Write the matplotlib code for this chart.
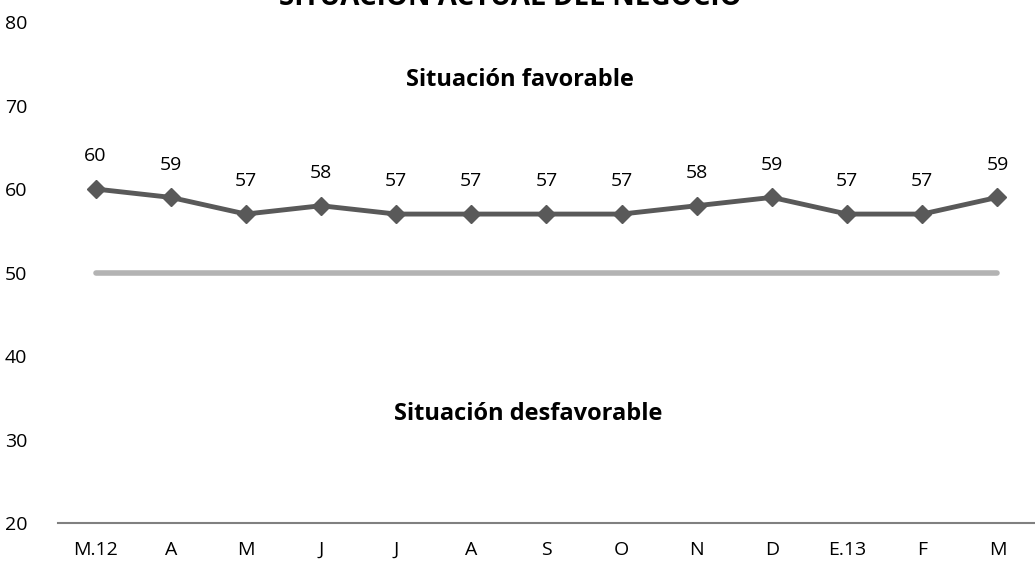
import matplotlib.pyplot as plt
import numpy as np

# Datos
meses = ['M.12', 'A', 'M', 'J', 'J', 'A', 'S', 'O', 'N', 'D', 'E.13', 'F', 'M']
valores = [60, 59, 57, 58, 57, 57, 57, 57, 58, 59, 57, 57, 59]
referencia = [50] * len(meses)
yticks = [20, 30, 40, 50, 60, 70, 80]

plt.rcParams['font.family'] = ['Open Sans', 'DejaVu Sans']

fig = plt.figure(figsize=(10.35, 5.75), dpi=100)
ax = fig.add_axes([0.056, 0.0904, 0.944, 0.8713])

x = np.arange(len(meses))
ax.plot(x, referencia, color='#b3b3b3', linewidth=4, solid_capstyle='round')
ax.plot(x, valores, color='#595959', linewidth=3.5, marker='D', markersize=9)

for xi, v in zip(x, valores):
    ax.annotate(str(v), (xi, v), xytext=(0, 17), textcoords='offset points',
                ha='center', va='bottom', fontsize=14, color='black')

ax.set_xlim(-0.5, len(meses) - 0.5)
ax.set_ylim(20, 80)
ax.set_yticks(yticks)
ax.set_xticks(x)
ax.set_xticklabels(meses)
ax.tick_params(axis='both', length=0, labelsize=14, colors='black')
ax.tick_params(axis='x', pad=13)
ax.tick_params(axis='y', pad=22)

for s in ['top', 'right', 'left']:
    ax.spines[s].set_visible(False)
ax.spines['bottom'].set_color('#808080')
ax.spines['bottom'].set_linewidth(1.5)

ax.text(5.65, 73, 'Situación favorable', ha='center', va='center',
        fontsize=17, fontweight='bold')
ax.text(5.75, 33, 'Situación desfavorable', ha='center', va='center',
        fontsize=17, fontweight='bold')

fig.text(0.493, 1 - 5 / 575, 'SITUACIÓN ACTUAL DEL NEGOCIO', ha='center',
         va='baseline', fontsize=20, fontweight='bold')

fig.savefig('out.png', dpi=100)
